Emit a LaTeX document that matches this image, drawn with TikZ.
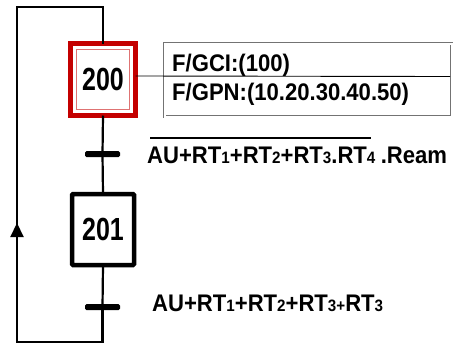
\documentclass[tikz,border=0pt]{standalone}
\usepackage{fontspec}
\setmainfont{Liberation Sans}[FakeStretch=0.92]
\newfontfamily\stepfont{Liberation Sans}[FakeStretch=0.78]
\usetikzlibrary{arrows.meta}
\definecolor{stepred}{RGB}{196,0,0}
\newcommand{\rtidx}[1]{{\fontsize{16.5bp}{16.5bp}\selectfont #1}}

\begin{document}
\begin{tikzpicture}[
  x=1bp,
  y=-1bp,
  link/.style={draw=black, line width=2.2bp},
  initstep/.style={draw=stepred, line width=5bp, fill=white, minimum width=65bp, minimum height=72bp,
    inner sep=0pt, outer sep=0pt, font={\stepfont\bfseries\fontsize{32bp}{32bp}\selectfont}},
  stepbox/.style={draw=black, line width=4.5bp, fill=white, minimum width=62bp, minimum height=71bp,
    inner sep=0pt, outer sep=0pt, rounded corners=1bp, font={\stepfont\bfseries\fontsize{32bp}{32bp}\selectfont}},
  transbar/.style={fill=black, minimum width=35bp, minimum height=6bp, inner sep=0pt, rounded corners=1.5bp},
  actbox/.style={draw=gray!90!black, double, double distance=2bp, line width=0.9bp, minimum width=287bp,
    minimum height=73bp, inner sep=0pt, outer sep=0pt},
  cond/.style={font={\bfseries\fontsize{24bp}{24bp}\selectfont}, anchor=base west, inner sep=0pt},
  acttext/.style={font={\bfseries\fontsize{24bp}{24bp}\selectfont}, anchor=base west, inner sep=0pt}
]
\useasboundingbox (0,0) rectangle (467,344);

% steps
\node[initstep] (s200) at (103,79.5) {200};
\node[stepbox] (s201) at (103,229.5) {201};
\draw[stepred!55, line width=0.8bp] ([shift={(6,6)}]s200.north west) rectangle ([shift={(-6,-6)}]s200.south east);

% links
\coordinate (t1) at (102.5,154);
\coordinate (t2) at (102.5,307);
\coordinate (loopbl) at (17,342);
\coordinate (looptl) at (17,7);
\draw[link] (s200.south) -- (t1) -- (s201.north);
\draw[link] (s201.south) -- (t2);
\draw[link] (t2) -- (t2 |- loopbl) -- (loopbl) -- (looptl) -- (looptl -| s200.north) -- (s200.north);
\draw[-{Triangle[width=13bp,length=14bp]}, line width=2.2bp] (17,240) -- (17,223);

% transitions
\node[transbar] (t1bar) at (t1) {};
\node[transbar] (t2bar) at (t2) {};

% action
\node[actbox] (act) at (308,80) {};
\draw[line width=0.9bp] ([yshift=3.5bp]s200.east) -- ([shift={(-1.5,-3.5)}]act.east);
\node[acttext] (gci) at (172,71) {F/GCI:(100)};
\node[acttext] (gpn) at (172,100) {F/GPN:(10.20.30.40.50)};

% receptivities
\node[cond] (c1) at (147,163) {AU+RT\rtidx1+RT\rtidx2+RT\rtidx3.RT\rtidx4};
\node[cond] (c1r) at (c1.base east) {\hspace{5bp}.Ream};
\draw[line width=2bp] ([shift={(3,-8.5)}]c1.north west) -- ([shift={(-5,-8.5)}]c1.north east);
\node[cond] (c2) at (152,311) {AU+RT\rtidx1+RT\rtidx2+RT\rtidx{3+}RT\rtidx3};
\end{tikzpicture}
\end{document}
